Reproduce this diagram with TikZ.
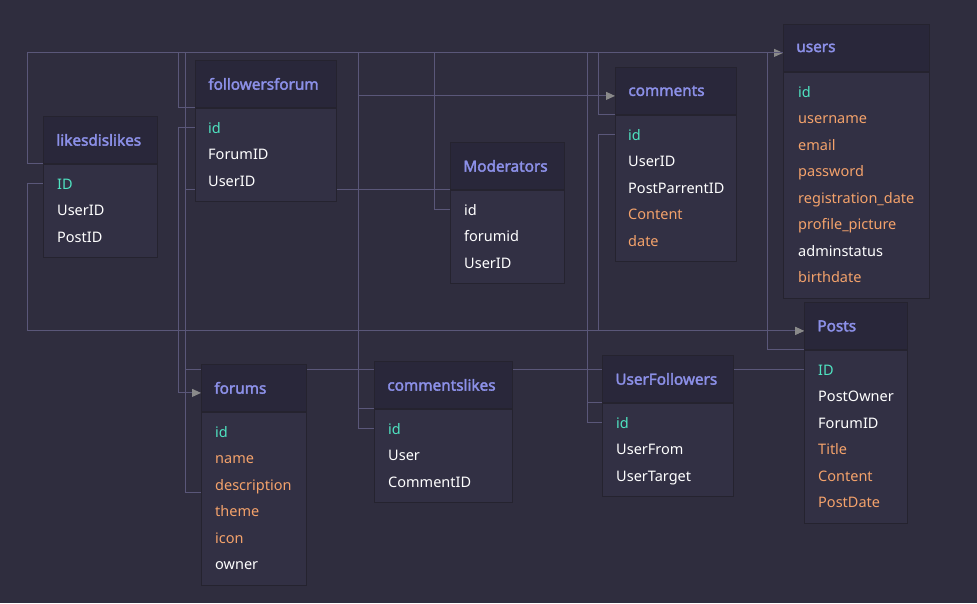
\documentclass[tikz,border=0pt]{standalone}
\usepackage{fontspec}
\setmainfont{Noto Sans}[AutoFakeBold=2.2]
\usepackage{xcolor}
\definecolor{canvas}{HTML}{2F2D3E}
\definecolor{headbg}{HTML}{29273A}
\definecolor{bodybg}{HTML}{323044}
\definecolor{edge}{HTML}{25232F}
\definecolor{titlec}{HTML}{8C90E8}
\definecolor{keyc}{HTML}{4FE3C1}
\definecolor{valc}{HTML}{F4A26B}
\definecolor{plainc}{HTML}{FFFFFF}
\definecolor{wire}{HTML}{5A5779}
\definecolor{tipc}{HTML}{8A8A8A}
\usepackage{tikz}
\usetikzlibrary{arrows.meta, calc}

\pgfdeclarelayer{bg}
\pgfdeclarelayer{wires}
\pgfsetlayers{bg,wires,main}

\tikzset{
  tblhead/.style={anchor=north west, fill=headbg, draw=edge, line width=0.8pt,
        minimum height=47pt, inner xsep=13pt, align=left,
        text=titlec, font=\fontsize{15.3}{17}\selectfont\bfseries},
  tblbody/.style={anchor=north west, fill=bodybg, draw=edge, line width=0.8pt, inner sep=0pt},
  tblrow/.style={anchor=base west, inner sep=0pt, font=\fontsize{14.5}{17}\selectfont},
  link/.style={draw=wire, line width=1pt},
  fk/.style={link, -{Triangle[length=9pt, width=8pt, color=tipc]}}
}

\begin{document}
\begin{tikzpicture}[x=1pt, y=-1pt]
  \useasboundingbox (0,0) rectangle (977,603);
  \begin{pgfonlayer}{bg}
    \fill[canvas] (0,0) rectangle (977,603);
  \end{pgfonlayer}

  % likesdislikes
  \node[tblhead, text width=88pt] (likes) at (43,116) {likesdislikes};
  \node[tblbody, minimum width=114pt, minimum height=93.5pt] (likes-b) at (likes.south west) {};
  \foreach \fld/\fc [count=\i] in {ID/keyc, UserID/plainc, PostID/plainc}
    \node[tblrow, text=\fc] (likes-\i) at ($(likes.south west)+(14,25.25+26.5*\i-26.5)$) {\fld};

  % followersforum
  \node[tblhead, text width=115pt] (ff) at (195,60) {followersforum};
  \node[tblbody, minimum width=141pt, minimum height=93.5pt] (ff-b) at (ff.south west) {};
  \foreach \fld/\fc [count=\i] in {id/keyc, ForumID/plainc, UserID/plainc}
    \node[tblrow, text=\fc] (ff-\i) at ($(ff.south west)+(13,25.25+26.5*\i-26.5)$) {\fld};

  % Moderators
  \node[tblhead, text width=88pt] (mod) at (450,142) {Moderators};
  \node[tblbody, minimum width=114pt, minimum height=93.5pt] (mod-b) at (mod.south west) {};
  \foreach \fld/\fc [count=\i] in {id/plainc, forumid/plainc, UserID/plainc}
    \node[tblrow, text=\fc] (mod-\i) at ($(mod.south west)+(14,25.25+26.5*\i-26.5)$) {\fld};

  % comments
  \node[tblhead, text width=95pt] (com) at (615,67) {comments};
  \node[tblbody, minimum width=121pt, minimum height=146.5pt] (com-b) at (com.south west) {};
  \foreach \fld/\fc [count=\i] in {id/keyc, UserID/plainc, PostParrentID/plainc,
      Content/valc, date/valc}
    \node[tblrow, text=\fc] (com-\i) at ($(com.south west)+(13,25.25+26.5*\i-26.5)$) {\fld};

  % users
  \node[tblhead, text width=120pt] (users) at (783,24) {users};
  \node[tblbody, minimum width=146pt, minimum height=226pt] (users-b) at (users.south west) {};
  \foreach \fld/\fc [count=\i] in {id/keyc, username/valc, email/valc, password/valc,
      registration\_date/valc, profile\_picture/valc, adminstatus/plainc, birthdate/valc}
    \node[tblrow, text=\fc] (users-\i) at ($(users.south west)+(15,25.25+26.5*\i-26.5)$) {\fld};

  % Posts
  \node[tblhead, text width=77pt] (posts) at (804,302) {Posts};
  \node[tblbody, minimum width=103pt, minimum height=173pt] (posts-b) at (posts.south west) {};
  \foreach \fld/\fc [count=\i] in {ID/keyc, PostOwner/plainc, ForumID/plainc,
      Title/valc, Content/valc, PostDate/valc}
    \node[tblrow, text=\fc] (posts-\i) at ($(posts.south west)+(14,25.25+26.5*\i-26.5)$) {\fld};

  % forums
  \node[tblhead, text width=79pt] (forums) at (201,364) {forums};
  \node[tblbody, minimum width=105pt, minimum height=173pt] (forums-b) at (forums.south west) {};
  \foreach \fld/\fc [count=\i] in {id/keyc, name/valc, description/valc,
      theme/valc, icon/valc, owner/plainc}
    \node[tblrow, text=\fc] (forums-\i) at ($(forums.south west)+(14,25.25+26.5*\i-26.5)$) {\fld};

  % commentslikes
  \node[tblhead, text width=112pt] (cl) at (374,361) {commentslikes};
  \node[tblbody, minimum width=138pt, minimum height=93.5pt] (cl-b) at (cl.south west) {};
  \foreach \fld/\fc [count=\i] in {id/keyc, User/plainc, CommentID/plainc}
    \node[tblrow, text=\fc] (cl-\i) at ($(cl.south west)+(14,25.25+26.5*\i-26.5)$) {\fld};

  % UserFollowers
  \node[tblhead, text width=105pt] (uf) at (602,355) {UserFollowers};
  \node[tblbody, minimum width=131pt, minimum height=93.5pt] (uf-b) at (uf.south west) {};
  \foreach \fld/\fc [count=\i] in {id/keyc, UserFrom/plainc, UserTarget/plainc}
    \node[tblrow, text=\fc] (uf-\i) at ($(uf.south west)+(14,25.25+26.5*\i-26.5)$) {\fld};

  % relations
  \begin{pgfonlayer}{wires}
    \coordinate (usersin) at ([yshift=-5pt]users.west);
    \coordinate (postsin) at ([yshift=-5pt]posts.west);
    \coordinate (commin) at ([yshift=-5pt]com.west);
    \coordinate (forumsin) at ([yshift=-5pt]forums.west);
    \coordinate (ftrack) at ($(forums.west)+(-16,0)$);
    \coordinate (fo-own) at ($(forums-3.base -| forums.west)+(0,2)$);

    \draw[fk] (likes.south west) -- ++(-16,0) |- (usersin);
    \draw[fk] (likes-1 -| likes.west) -- ++(-16,0) |- (postsin);
    \draw[link] (ff.south west) -- ++(-17,0) |- (usersin);
    \draw[fk] (ff-1 -| ff.west) -- ++(-17,0) |- (forumsin);
    \draw[link] (fo-own) -| (ftrack |- usersin) -- (usersin);
    \draw[link] (mod.south west) -- (mod.south west -| ftrack);
    \draw[link] (posts-1 -| posts.west) -- (posts-1 -| ftrack);
    \draw[link] (mod-1 -| mod.west) -- ++(-16,0) |- (usersin);
    \draw[link] (cl-1 -| cl.west) -- ++(-16,0) |- (usersin);
    \draw[fk] (cl.south west) -- ++(-16,0) |- (commin);
    \draw[link] (uf-1 -| uf.west) -- ++(-15,0) |- (usersin);
    \draw[link] (uf.south west) -- ++(-15,0);
    \draw[link] (com.south west) -- ++(-17,0) |- (usersin);
    \draw[fk] (com-1 -| com.west) -- ++(-17,0) |- (postsin);
    \draw[link] (posts.south west) -- ++(-37,0) |- (usersin);
  \end{pgfonlayer}
\end{tikzpicture}
\end{document}
